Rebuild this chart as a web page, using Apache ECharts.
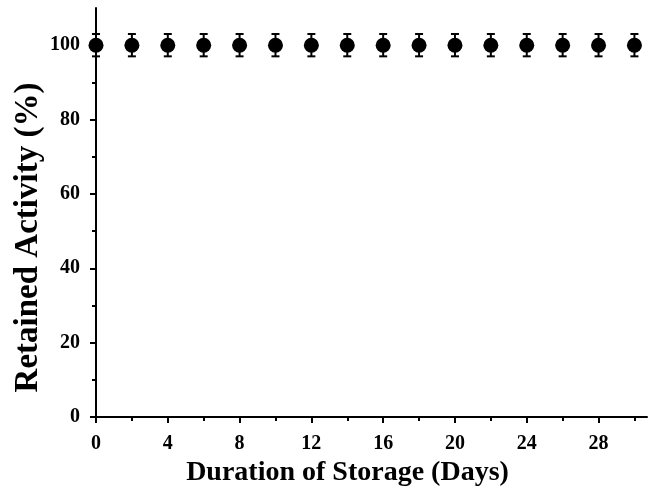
<!DOCTYPE html>
<html>
<head>
<meta charset="utf-8">
<script src="https://cdn.jsdelivr.net/npm/echarts@6/dist/echarts.min.js"></script>
<style>
  html, body { margin: 0; padding: 0; background: #fff; }
  #chart { width: 648px; height: 497px; }
</style>
</head>
<body>
<div id="chart"></div>
<script>
// storage days and retained activity (%) with error
const days = [0, 2, 4, 6, 8, 10, 12, 14, 16, 18, 20, 22, 24, 26, 28, 30];
const activity = [100, 100, 100, 100, 100, 100, 100, 100, 100, 100, 100, 100, 100, 100, 100, 100];
const errors = [3, 3, 3, 3, 3, 3, 3, 3, 3, 3, 3, 3, 3, 3, 3, 3];
const xMajor = [0, 4, 8, 12, 16, 20, 24, 28];
const xMinor = [2, 6, 10, 14, 18, 22, 26, 30];
const yMajor = [0, 20, 40, 60, 80, 100];
const yMinor = [10, 30, 50, 70, 90];

const font = "'Liberation Serif', 'Times New Roman', serif";
const chart = echarts.init(document.getElementById("chart"));

const points = days.map((d, i) => [d, activity[i]]);
const bars = days.map((d, i) => [d, activity[i] - errors[i], activity[i] + errors[i]]);

const axisLine = { show: true, lineStyle: { color: "#000", width: 2 } };

const option = {
  animation: false,
  grid: { left: 96, right: 1, top: 8, bottom: 80 },
  xAxis: [
    {
      type: "value",
      min: 0,
      max: 30.7,
      axisLine: axisLine,
      splitLine: { show: false },
      axisTick: { customValues: xMajor, length: 6, lineStyle: { color: "#000", width: 2 } },
      axisLabel: {
        customValues: xMajor,
        color: "#000",
        fontFamily: font,
        fontWeight: "bold",
        fontSize: 20,
        margin: 17,
      },
      name: "Duration of Storage (Days)",
      nameLocation: "middle",
      nameGap: 42,
      nameTextStyle: {
        color: "#000",
        fontFamily: font,
        fontWeight: "bold",
        fontSize: 28,
        padding: [0, 48, 0, 0],
      },
    },
    {
      type: "value",
      min: 0,
      max: 30.7,
      position: "bottom",
      axisLine: { show: false },
      splitLine: { show: false },
      axisLabel: { show: false },
      axisTick: { customValues: xMinor, length: 4, lineStyle: { color: "#000", width: 2 } },
    },
  ],
  yAxis: [
    {
      type: "value",
      min: 0,
      max: 110,
      axisLine: axisLine,
      splitLine: { show: false },
      axisTick: { customValues: yMajor, length: 6, lineStyle: { color: "#000", width: 2 } },
      axisLabel: {
        customValues: yMajor,
        color: "#000",
        fontFamily: font,
        fontWeight: "bold",
        fontSize: 20,
        margin: 16,
      },
      name: "Retained Activity (%)",
      nameLocation: "middle",
      nameGap: 51,
      nameMoveOverlap: false,
      nameTextStyle: {
        color: "#000",
        fontFamily: font,
        fontWeight: "bold",
        fontSize: 33,
        padding: [0, 50, 0, 0],
      },
    },
    {
      type: "value",
      min: 0,
      max: 110,
      position: "left",
      axisLine: { show: false },
      splitLine: { show: false },
      axisLabel: { show: false },
      axisTick: { customValues: yMinor, length: 4, lineStyle: { color: "#000", width: 2 } },
    },
  ],
  series: [
    {
      type: "custom",
      data: bars,
      renderItem: function (params, api) {
        const lo = api.coord([api.value(0), api.value(1)]);
        const hi = api.coord([api.value(0), api.value(2)]);
        const w = 4;
        const style = { stroke: "#000", lineWidth: 2 };
        return {
          type: "group",
          children: [
            { type: "line", shape: { x1: lo[0], y1: lo[1], x2: hi[0], y2: hi[1] }, style: style },
            { type: "line", shape: { x1: lo[0] - w, y1: lo[1], x2: lo[0] + w, y2: lo[1] }, style: style },
            { type: "line", shape: { x1: hi[0] - w, y1: hi[1], x2: hi[0] + w, y2: hi[1] }, style: style },
          ],
        };
      },
      z: 2,
    },
    {
      type: "scatter",
      data: points,
      symbol: "circle",
      symbolSize: 15,
      itemStyle: { color: "#000", opacity: 1 },
      z: 3,
    },
  ],
};

chart.setOption(option);
</script>
</body>
</html>
